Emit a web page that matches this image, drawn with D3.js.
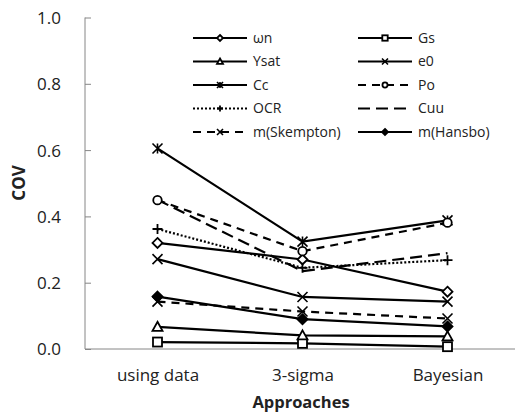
<!DOCTYPE html>
<html>
<head>
<meta charset="utf-8">
<script src="https://cdn.jsdelivr.net/npm/d3@7"></script>
<style>
  html, body { margin: 0; padding: 0; background: #fff; }
  svg { display: block; font-family: "Open Sans", sans-serif; }
</style>
</head>
<body>
<svg id="chart" width="515" height="416"></svg>
<script>
// Approaches compared on the x axis
const approaches = ["using data", "3-sigma", "Bayesian"];

// COV of each soil parameter, one value per approach
const wn        = [0.320, 0.270, 0.173];
const Gs        = [0.021, 0.017, 0.007];
const Ysat      = [0.067, 0.041, 0.038];
const e0        = [0.271, 0.157, 0.143];
const Cc        = [0.605, 0.324, 0.388];
const Po        = [0.449, 0.295, 0.381];
const OCR       = [0.362, 0.245, 0.268];
const Cuu       = [0.450, 0.235, 0.289];
const mSkempton = [0.143, 0.113, 0.092];
const mHansbo   = [0.158, 0.090, 0.068];

const yTicks = [0, 0.2, 0.4, 0.6, 0.8, 1.0];

// name, values, dash pattern, marker symbol
const series = [
  { name: "\u03c9n",        values: wn,        dash: null,  marker: "diamond" },
  { name: "Gs",             values: Gs,        dash: null,  marker: "square" },
  { name: "Ysat",           values: Ysat,      dash: null,  marker: "triangle" },
  { name: "e0",             values: e0,        dash: null,  marker: "cross" },
  { name: "Cc",             values: Cc,        dash: null,  marker: "star" },
  { name: "Po",             values: Po,        dash: "8,6", marker: "circle" },
  { name: "OCR",            values: OCR,       dash: "2,2", marker: "plus" },
  { name: "Cuu",            values: Cuu,       dash: "12,6", marker: null },
  { name: "m(Skempton)",    values: mSkempton, dash: "8,6", marker: "cross" },
  { name: "m(Hansbo)",      values: mHansbo,   dash: null,  marker: "filledDiamond" }
];

const svg = d3.select("#chart");
const plotLeft = 85, plotRight = 520, plotTop = 17.5, plotBottom = 349;
const axisColor = "#868686";

const x = d3.scalePoint().domain(approaches).range([plotLeft, plotRight]).padding(0.5);
const y = d3.scaleLinear().domain([0, 1]).range([plotBottom, plotTop]);

// y axis: inward ticks, labels on the left
const yAxis = svg.append("g").attr("transform", `translate(${plotLeft},0)`)
  .call(d3.axisRight(y).tickValues(yTicks).tickSize(6).tickFormat(d3.format(".1f")));
yAxis.select(".domain").attr("stroke", axisColor).attr("d", `M0,${plotTop}V${plotBottom}`);
yAxis.selectAll(".tick line").attr("stroke", axisColor);
yAxis.selectAll(".tick text")
  .attr("x", -24).attr("text-anchor", "end").attr("dy", "0.35em")
  .attr("font-size", 17).attr("fill", "#222").attr("font-family", "Open Sans, sans-serif");

// x axis: baseline and category labels
const xAxis = svg.append("g").attr("transform", `translate(0,${plotBottom})`)
  .call(d3.axisBottom(x).tickSize(0).tickPadding(0));
xAxis.select(".domain").attr("stroke", axisColor).attr("d", `M${plotLeft},0H${515}`);
xAxis.selectAll(".tick text")
  .attr("y", 32).attr("dy", 0).attr("font-size", 17).attr("fill", "#222")
  .attr("font-family", "Open Sans, sans-serif");

svg.append("text").attr("x", 301).attr("y", 408).attr("text-anchor", "middle")
  .attr("font-size", 16.5).attr("font-weight", "bold").attr("fill", "#222").text("Approaches");
svg.append("text").attr("transform", "translate(25,183) rotate(-90)").attr("text-anchor", "middle")
  .attr("font-size", 17).attr("font-weight", "bold").attr("fill", "#222").text("COV");

// marker drawing helper
function drawMarker(g, type, cx, cy, s) {
  const h = s / 2;
  const st = { stroke: "#000", "stroke-width": 1.8, fill: "#fff" };
  const apply = sel => { Object.entries(st).forEach(([k, v]) => sel.attr(k, v)); return sel; };
  switch (type) {
    case "diamond":
      apply(g.append("path")).attr("d", `M${cx},${cy - h}L${cx + h},${cy}L${cx},${cy + h}L${cx - h},${cy}Z`);
      break;
    case "filledDiamond":
      apply(g.append("path")).attr("fill", "#000").attr("d", `M${cx},${cy - h}L${cx + h},${cy}L${cx},${cy + h}L${cx - h},${cy}Z`);
      break;
    case "square":
      apply(g.append("rect")).attr("x", cx - h * 0.9).attr("y", cy - h * 0.9).attr("width", s * 0.9).attr("height", s * 0.9);
      break;
    case "triangle":
      apply(g.append("path")).attr("d", `M${cx},${cy - h}L${cx + h},${cy + h * 0.8}L${cx - h},${cy + h * 0.8}Z`);
      break;
    case "circle":
      apply(g.append("circle")).attr("cx", cx).attr("cy", cy).attr("r", h * 0.85);
      break;
    case "cross":
      g.append("path").attr("stroke", "#000").attr("stroke-width", 1.6).attr("fill", "none")
        .attr("d", `M${cx - h},${cy - h}L${cx + h},${cy + h}M${cx - h},${cy + h}L${cx + h},${cy - h}`);
      break;
    case "plus":
      g.append("path").attr("stroke", "#000").attr("stroke-width", 1.8).attr("fill", "none")
        .attr("d", `M${cx - h},${cy}L${cx + h},${cy}M${cx},${cy - h}L${cx},${cy + h}`);
      break;
    case "star":
      g.append("path").attr("stroke", "#000").attr("stroke-width", 1.6).attr("fill", "none")
        .attr("d", `M${cx - h},${cy - h}L${cx + h},${cy + h}M${cx - h},${cy + h}L${cx + h},${cy - h}M${cx},${cy - h}L${cx},${cy + h}`);
      break;
  }
}

const line = d3.line().x((d, i) => x(approaches[i])).y(d => y(d));

// series lines and markers
const plot = svg.append("g");
series.forEach(s => {
  plot.append("path").datum(s.values)
    .attr("d", line).attr("fill", "none").attr("stroke", "#000")
    .attr("stroke-width", 2.2)
    .attr("stroke-dasharray", s.dash);
});
series.forEach(s => {
  if (!s.marker) return;
  const g = plot.append("g");
  s.values.forEach((v, i) => drawMarker(g, s.marker, x(approaches[i]), y(v), 10));
});

// legend: two columns, five rows
const legend = svg.append("g");
series.forEach((s, i) => {
  const col = i % 2, row = Math.floor(i / 2);
  const x0 = col === 0 ? 193 : 358;
  const yy = 38 + row * 23.5;
  const g = legend.append("g");
  g.append("line").attr("x1", x0).attr("x2", x0 + 54).attr("y1", yy).attr("y2", yy)
    .attr("stroke", "#000").attr("stroke-width", 2.2).attr("stroke-dasharray", s.dash);
  if (s.marker) drawMarker(g, s.marker, x0 + 27, yy, 6);
  g.append("text").attr("x", x0 + 60).attr("y", yy).attr("dy", "0.35em")
    .attr("font-size", 14).attr("fill", "#222").text(s.name);
});
</script>
</body>
</html>
